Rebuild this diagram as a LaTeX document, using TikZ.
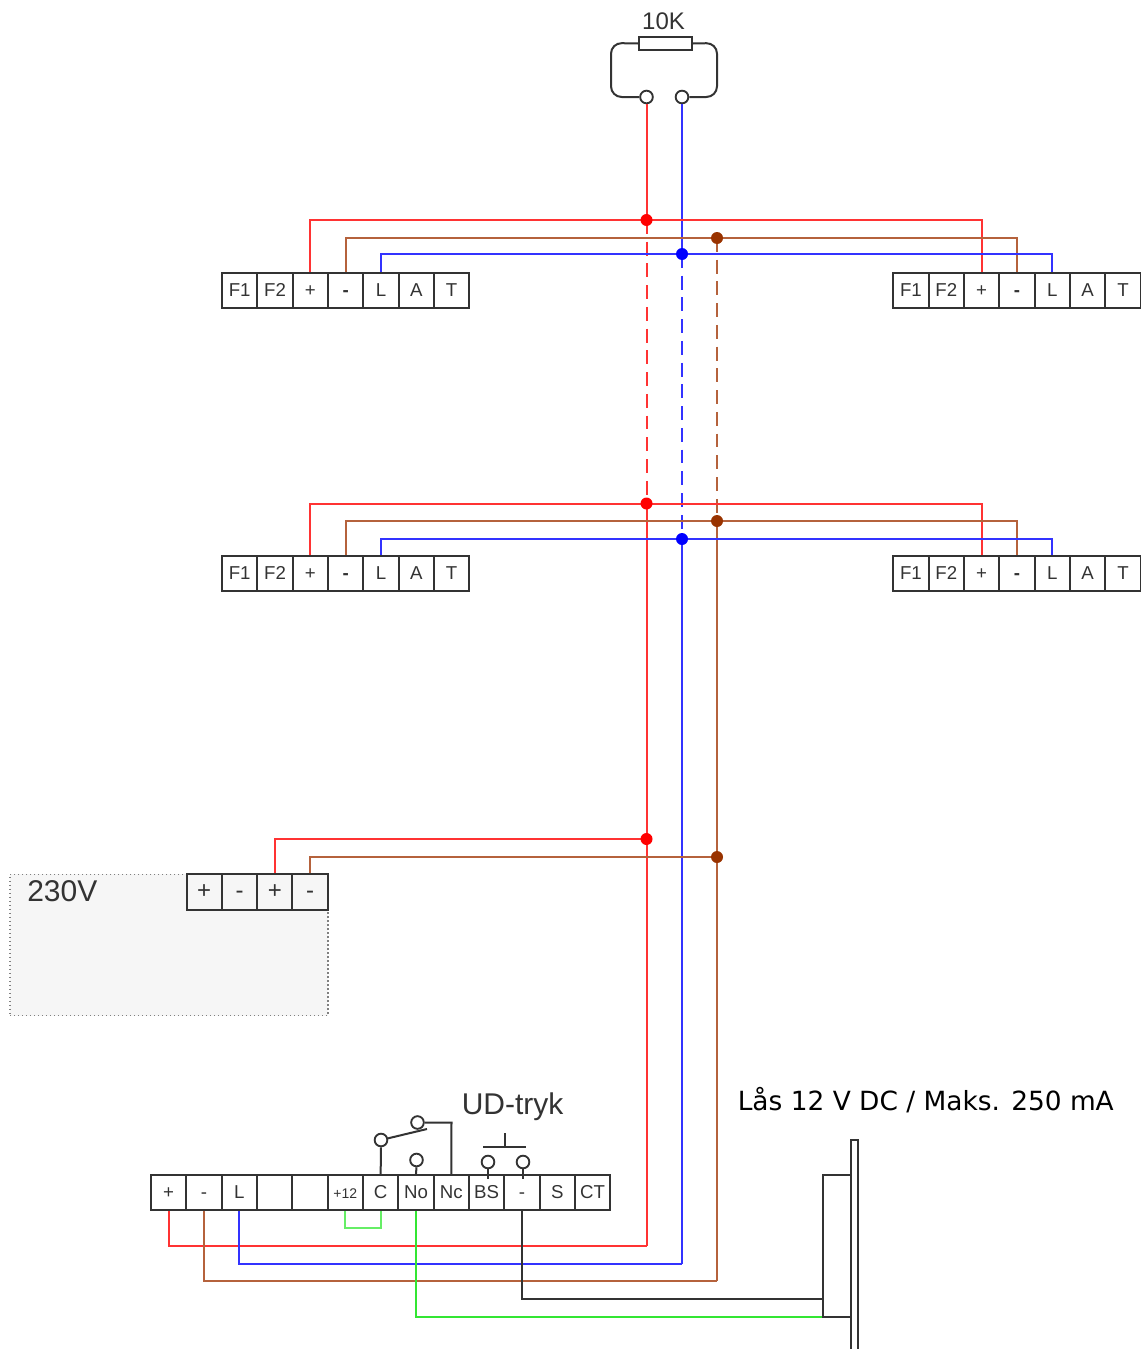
\documentclass[tikz,border=0pt]{standalone}
\usepackage{fontspec}
\usetikzlibrary{calc}
\setmainfont{Liberation Sans}
\newfontfamily\dejavu{DejaVu Sans}
\definecolor{wred}{HTML}{FF3333}
\definecolor{wbrown}{HTML}{B5623C}
\definecolor{wblue}{HTML}{3333FF}
\definecolor{wgreen}{HTML}{33E633}
\definecolor{wlgreen}{HTML}{66EE66}
\definecolor{dotbrown}{HTML}{993300}
\definecolor{ink}{HTML}{333333}
\tikzset{
  cellbox/.style={draw=ink,line width=1.5pt,minimum width=26.5pt,minimum height=26.4pt,inner sep=0pt,font=\fontsize{14}{14}\selectfont,text=ink,text height=8.8pt,text depth=0pt},
  bigcell/.style={cellbox,font=\fontsize{18}{18}\selectfont,text height=10pt},
  redw/.style={draw=wred,line width=1.5pt},
  brownw/.style={draw=wbrown,line width=1.5pt},
  bluew/.style={draw=wblue,line width=1.5pt},
  greenw/.style={draw=wgreen,line width=1.5pt},
  jumper/.style={draw=wlgreen,line width=1.5pt},
  blackw/.style={draw=ink,line width=1.5pt},
  dashw/.style={dash pattern=on 10.4pt off 5.9pt},
  junction/.style={circle,inner sep=0pt,minimum size=9pt},
  contact/.style={circle,draw=ink,fill=white,line width=1.4pt,inner sep=0pt,minimum size=9.5pt},
  title/.style={font=\fontsize{22.5}{22.5}\selectfont,text=ink,inner sep=0pt},
}
\newcommand{\termrow}[4]{%
  \foreach \lab [count=\i] in {#4} {
    \node[cellbox] (#1\i) at ({#2+(\i-0.5)*35.33},#3) {\lab};
  }%
}
\begin{document}
\begin{tikzpicture}[x=.75pt,y=-.75pt]
\useasboundingbox (0,0) rectangle (1140,1349);
% coordinates
\coordinate (r1) at (646.5,220);
\coordinate (r2) at (646.5,503.5);
\coordinate (r3) at (646.5,839);
\coordinate (rb) at (646.5,1246);
\coordinate (bl1) at (682,254);
\coordinate (bl2) at (682,539);
\coordinate (blb) at (682,1263.5);
\coordinate (br1) at (717,238);
\coordinate (br2) at (717,521);
\coordinate (br3) at (717,857);
\coordinate (brb) at (717,1281);
\coordinate (jm) at (362,1228);
\coordinate (sw) at (451.5,1122.5);
\coordinate (lkb) at (823,1299);
\coordinate (lkg) at (823,1316.5);
\coordinate (platebot) at (851,1349);
\coordinate (platebot2) at (858,1349);
\coordinate (platetop) at (851,1140);
\coordinate (platetop2) at (858,1140);
\coordinate (boxtl) at (823,1175);
\coordinate (boxbl) at (823,1316.5);
\coordinate (boxtr) at (851,1175);
\coordinate (boxbr) at (851,1316.5);
\coordinate (lefta) at (611,43);
\coordinate (leftb) at (611,97);
\coordinate (righta) at (717,43);
\coordinate (rightb) at (717,97);
\coordinate (barl) at (483,1147);
\coordinate (barr) at (526,1147);
\coordinate (stemt) at (505,1133);
\coordinate (stemb) at (505,1147);
\coordinate (swtip) at (427,1129);
% 230V box
\node[draw=gray,dotted,fill=black!3.5,line width=1pt,minimum width=238.5pt,minimum height=106pt,inner sep=0pt] (psu) at (169,945) {};
\node[title,anchor=west] (psulabel) at (27,891) {230V};
% resistor and contacts
\node[draw=ink,fill=white,line width=1.4pt,minimum width=40pt,minimum height=10pt,inner sep=0pt] (res) at (665.5,43.5) {};
\node[font=\fontsize{18}{18}\selectfont,text=ink,inner sep=0pt] (reslabel) at (663.5,21) {10K};
\node[contact] (c1) at (646.5,97) {};
\node[contact] (c2) at (682,97) {};
% terminal rows
\termrow{a}{222}{290.5}{F1,F2,+,\textbf{-},L,A,T}
\termrow{b}{893.3}{290.5}{F1,F2,+,\textbf{-},L,A,T}
\termrow{e}{222}{573.5}{F1,F2,+,\textbf{-},L,A,T}
\termrow{f}{893.3}{573.5}{F1,F2,+,\textbf{-},L,A,T}
\termrow{d}{151}{1192.5}{+,-,L,,,{\fontsize{10.5}{10.5}\selectfont +12},C,No,Nc,BS,-,S,CT}
\foreach \lab [count=\i] in {+,-,+,-} {
  \node[bigcell] (p\i) at ({186.5+(\i-0.5)*35.33},892) {\lab};
}
% resistor loop
\draw[blackw,rounded corners=8pt] (res.west) -- (lefta) -- (leftb) -- (c1.west);
\draw[blackw,rounded corners=8pt] (res.east) -- (righta) -- (rightb) -- (c2.east);
% risers
\draw[redw] (c1.south) -- (r1);
\draw[redw,dashw] (r1) -- (r2);
\draw[redw] (r2) -- (r3) -- (rb);
\draw[bluew] (c2.south) -- (bl1);
\draw[bluew,dashw] (bl1) -- (bl2);
\draw[bluew] (bl2) -- (blb);
\draw[brownw,dashw] (br1) -- (br2);
\draw[brownw] (br2) -- (br3) -- (brb);
% branches
\draw[redw] (a3.north) |- (r1) -| (b3.north);
\draw[brownw] (a4.north) |- (br1) -| (b4.north);
\draw[bluew] (a5.north) |- (bl1) -| (b5.north);
\draw[redw] (e3.north) |- (r2) -| (f3.north);
\draw[brownw] (e4.north) |- (br2) -| (f4.north);
\draw[bluew] (e5.north) |- (bl2) -| (f5.north);
\draw[redw] (p3.north) |- (r3);
\draw[brownw] (p4.north) |- (br3);
% bottom wiring
\draw[redw] (d1.south) |- (rb);
\draw[brownw] (d2.south) |- (brb);
\draw[bluew] (d3.south) |- (blb);
\draw[jumper] (d6.south) |- (jm) -| (d7.south);
\draw[greenw] (d8.south) |- (lkg);
\draw[blackw] (d11.south) |- (lkb);
% junction dots
\node[junction,fill=red] (jr1) at (r1) {};
\node[junction,fill=red] (jr2) at (r2) {};
\node[junction,fill=red] (jr3) at (r3) {};
\node[junction,fill=blue] (jb1) at (bl1) {};
\node[junction,fill=blue] (jb2) at (bl2) {};
\node[junction,fill=dotbrown] (jn1) at (br1) {};
\node[junction,fill=dotbrown] (jn2) at (br2) {};
\node[junction,fill=dotbrown] (jn3) at (br3) {};
% door switch
\node[contact] (s1) at (381,1140) {};
\node[contact] (s2) at (417.5,1122.5) {};
\node[contact] (s3) at (416.5,1160) {};
\node[contact] (s4) at (488,1162) {};
\node[contact] (s5) at (523,1162) {};
\draw[blackw] (d7.north) -- (s1.south);
\draw[blackw] (s1) -- (swtip);
\draw[blackw] (s2.east) -- (sw) -- (d9.north);
\draw[blackw] (s3.south) -- (d8.north);
\draw[blackw] (s4.south) -- ($(s4.south)+(0,10)$);
\draw[blackw] (s5.south) -- ($(s5.south)+(0,10)$);
\draw[blackw] (barl) -- (barr);
\draw[blackw] (stemt) -- (stemb);
\node[title,anchor=west] (udlabel) at (461.5,1107) {UD-tryk};
% lock
\draw[blackw] (platebot) -- (platetop) -- (platetop2) -- (platebot2);
\draw[blackw] (boxtr) -- (boxtl) -- (boxbl) -- (boxbr);
\node[font=\dejavu\fontsize{19.8}{20}\selectfont,anchor=west,inner sep=0pt] (locklabel) at (737.5,1100) {Lås 12 V DC / Maks. 250 mA};
\end{tikzpicture}
\end{document}
